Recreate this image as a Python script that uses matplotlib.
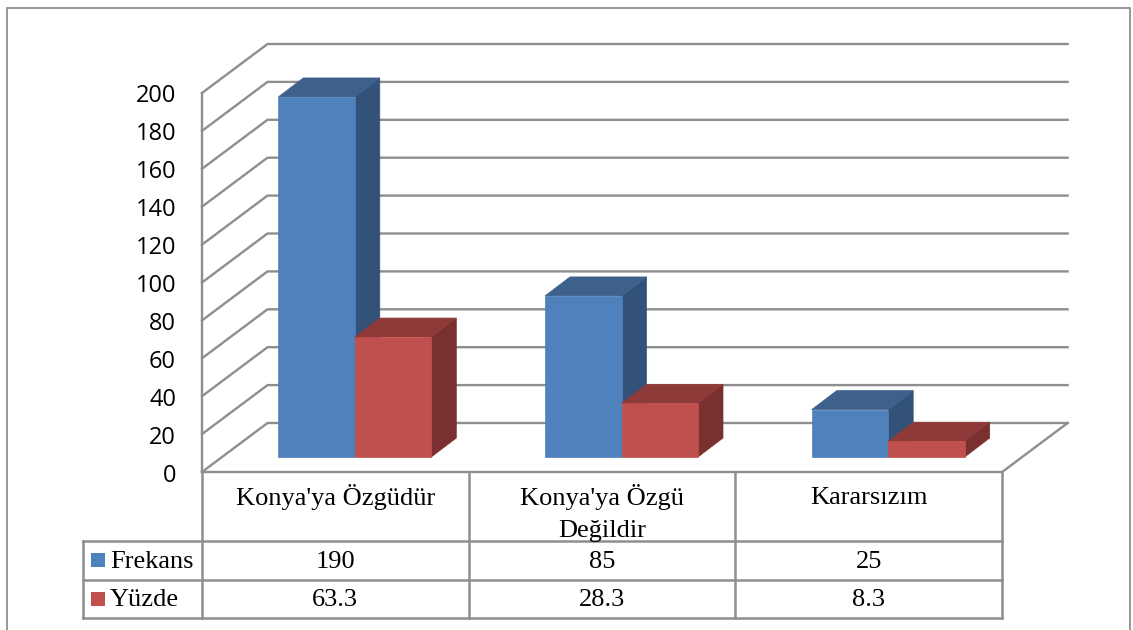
import matplotlib
import matplotlib.pyplot as plt
from matplotlib.patches import Polygon, Rectangle

matplotlib.use("Agg")

# Dados
categorias = ["Konya'ya Özgüdür", "Konya'ya Özgü\nDeğildir", "Kararsızım"]
series = ["Frekans", "Yüzde"]
frekans = [190, 85, 25]
yuzde = [63.3, 28.3, 8.3]
frekans_txt = ["190", "85", "25"]
yuzde_txt = ["63.3", "28.3", "8.3"]
ticks = [0, 20, 40, 60, 80, 100, 120, 140, 160, 180, 200]

# Cores: frente, topo, lado
AZUL = ("#4F81BD", "#3E618C", "#335279")
VERMELHO = ("#C0504D", "#8E3A38", "#7A302E")
GRADE = "#8E8E8E"

W, H = 1133, 630
X0, Y0 = 202.0, 472.0   # origem do eixo em pixels
PX_CAT = 266.7
PX_VAL = 1.895

fig = plt.figure(figsize=(W / 100, H / 100), dpi=100)
ax = fig.add_axes([0, 0, 1, 1])
ax.set_xlim((0 - X0) / PX_CAT, (W - X0) / PX_CAT)
ax.set_ylim((Y0 - H) / PX_VAL, (Y0 - 0) / PX_VAL)
ax.axis("off")


def dx(px):
    return px / PX_CAT


def dy(px):
    return px / PX_VAL


def linha(xs, ys, lw=1.7, cor=GRADE):
    ax.plot(xs, ys, color=cor, linewidth=lw, solid_capstyle="projecting", zorder=1)


def barra(x, largura, valor, cores, base_y):
    prof_x, prof_y = dx(25), dy(19)
    topo = base_y + valor
    ax.add_patch(Polygon(
        [(x + largura, base_y), (x + largura + prof_x, base_y + prof_y),
         (x + largura + prof_x, topo + prof_y), (x + largura, topo)],
        facecolor=cores[2], edgecolor=cores[2], linewidth=0.5, zorder=3))
    ax.add_patch(Polygon(
        [(x, topo), (x + prof_x, topo + prof_y),
         (x + largura + prof_x, topo + prof_y), (x + largura, topo)],
        facecolor=cores[1], edgecolor=cores[1], linewidth=0.5, zorder=3))
    ax.add_patch(Rectangle((x, base_y), largura, valor, facecolor=cores[0],
                           edgecolor=cores[0], linewidth=0.5, zorder=3))


# Moldura externa
borda_esq, borda_dir = (6.5 - X0) / PX_CAT, (1130 - X0) / PX_CAT
borda_topo, borda_baixo = (Y0 - 7.5) / PX_VAL, (Y0 - H) / PX_VAL
linha([borda_esq, borda_esq, borda_dir, borda_dir],
      [borda_baixo, borda_topo, borda_topo, borda_baixo], lw=1.4, cor="#969696")

# Paredes 3D e grade
prof_x, prof_y = dx(65.5), dy(49)
for t in ticks:
    linha([0, prof_x, 3 + prof_x], [t, t + prof_y, t + prof_y])
    ax.text(dx(-26), t - dy(3.5), str(t), ha="right", va="center", fontsize=17,
            family="Open Sans", color="black")
linha([0, 0], [0, ticks[-1]])
linha([0, 3, 3 + prof_x], [0, 0, prof_y])

# Barras
largura = dx(76.5)
for i in range(3):
    x = i + dx(76.3)
    barra(x, largura, frekans[i], AZUL, dy(15))
    barra(x + largura, largura, yuzde[i], VERMELHO, dy(15))

# Tabela de dados
lin1, lin2, lin3 = dy(-69), dy(-107.5), dy(-145.5)
esq = dx(-119)
for y in [lin1, lin2, lin3]:
    linha([esq, 3], [y, y], lw=1.8)
linha([esq, esq], [lin1, lin3], lw=1.8)
for i in range(4):
    linha([i, i], [0, lin3], lw=1.8)

fonte = dict(family="Liberation Serif", fontsize=19, color="black", zorder=4, va="baseline")
base_cat, base_lin1, base_lin2 = dy(-32.5), dy(-96), dy(-134.5)
for i, nome in enumerate(categorias):
    for j, parte in enumerate(nome.split("\n")):
        ax.text(i + 0.5, base_cat - j * dy(32), parte, ha="center", **fonte)
    ax.text(i + 0.5, base_lin1, frekans_txt[i], ha="center", **fonte)
    ax.text(i + 0.5, base_lin2, yuzde_txt[i], ha="center", **fonte)

# Legenda dentro da tabela
for nome, cores, (y1, y2), base in zip(series, [AZUL, VERMELHO], [(lin1, lin2), (lin2, lin3)],
                                       [base_lin1, base_lin2]):
    meio = (y1 + y2) / 2
    ax.add_patch(Rectangle((dx(-111), meio - dy(7)), dx(14), dy(14),
                           facecolor=cores[0], edgecolor="none", zorder=3))
    ax.text(dx(-92), base, nome, ha="left", **fonte)

fig.savefig("out.png", dpi=100, facecolor="white")
plt.close(fig)
